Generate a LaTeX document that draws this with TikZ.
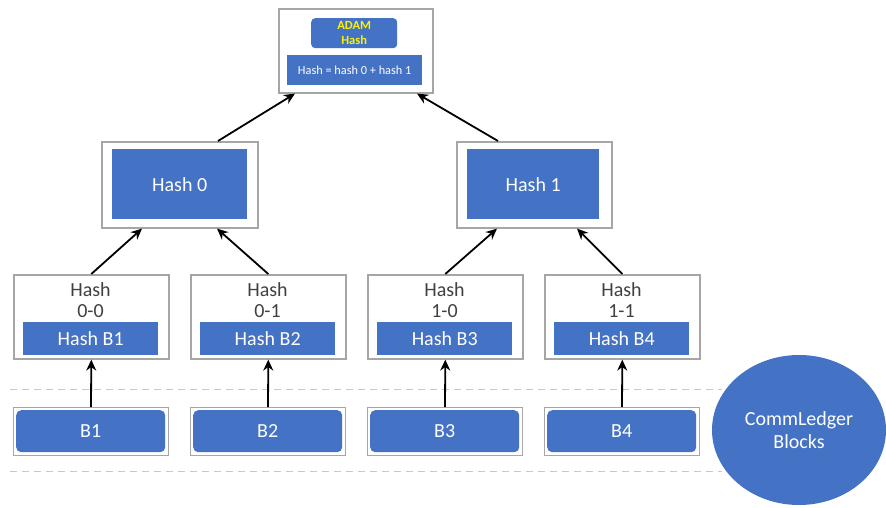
\documentclass[tikz,border=0pt]{standalone}
\usepackage{fontspec}
\setmainfont{Carlito}
\usetikzlibrary{arrows.meta,calc,shapes.geometric}
\definecolor{blk}{HTML}{4472C4}
\definecolor{framegray}{HTML}{A6A6A6}
\definecolor{guidegray}{HTML}{C8C8C8}
\definecolor{lbl}{HTML}{404040}
\tikzset{
  outer/.style={draw=framegray, line width=1.6pt, fill=white, inner sep=0pt, anchor=north west},
  bluebar/.style={fill=blk, draw=none, inner sep=0pt, anchor=north west, text=white, font=\fontsize{20}{20}\selectfont},
  link/.style={-{Stealth[length=11pt,width=10pt]}, line width=1.8pt, black},
  guide/.style={draw=guidegray, line width=1pt, dash pattern=on 7pt off 5pt}
}
\begin{document}
\begin{tikzpicture}[x=1pt,y=-1pt]
\useasboundingbox (0,0) rectangle (886,508);

% guide lines around the block row
\draw[guide] (10,389) -- (722,389);
\draw[guide] (10,471) -- (722,471);

% root
\node[outer, minimum width=154pt, minimum height=84pt] (root) at (278,8) {};
\node[bluebar, rounded corners=4pt, minimum width=86pt, minimum height=30pt, align=center,
      text=yellow, font=\bfseries\fontsize{12.5}{15}\selectfont] (adam) at (311,18) {ADAM\\Hash};
\node[bluebar, minimum width=135pt, minimum height=30pt, font=\fontsize{12.3}{12.3}\selectfont] (sum) at (287,55) {Hash = hash 0 + hash 1};

% second level
\node[outer, minimum width=156pt, minimum height=86pt] (h0) at (101,141) {};
\node[bluebar, minimum width=135pt, minimum height=70pt] (h0in) at (112,149) {Hash 0};
\node[outer, minimum width=155pt, minimum height=86pt] (h1) at (456,141) {};
\node[bluebar, minimum width=132pt, minimum height=70pt] (h1in) at (467,149) {Hash 1};

% leaf hashes
\foreach \nm/\x/\a/\b in {h00/13/0-0/B1, h01/190/0-1/B2, h10/367/1-0/B3, h11/544/1-1/B4}{
  \node[outer, minimum width=155pt, minimum height=84pt] (\nm) at (\x,274) {};
  \node[text=lbl, align=center, font=\fontsize{20}{21}\selectfont, inner sep=0pt] (\nm t) at (\x+77.5,300) {Hash\\\a};
  \node[bluebar, minimum width=135pt, minimum height=33pt] (\nm in) at (\x+10,322) {Hash \b};
  % ledger block
  \node[outer, line width=1pt, minimum width=155pt, minimum height=48pt] (\b) at (\x,407) {};
  \node[bluebar, rounded corners=5pt, minimum width=149pt, minimum height=42pt] (\b in) at (\x+3,410) {\b};
  \draw[link] (\b.north) -- (\nm.south);
}

% links up the tree
\draw[link] (h00.north) -- ($(h0.south west)+(41,0)$);
\draw[link] (h01.north) -- ($(h0.south west)+(116,0)$);
\draw[link] (h10.north) -- ($(h1.south west)+(41,0)$);
\draw[link] (h11.north) -- ($(h1.south west)+(121,0)$);
\draw[link] ($(h0.north west)+(117,0)$) -- ($(root.south west)+(17,0)$);
\draw[link] ($(h1.north west)+(42,0)$) -- ($(root.south west)+(139,0)$);

% legend
\node[ellipse, fill=blk, minimum width=174pt, minimum height=150pt, inner sep=0pt,
      text=white, align=center, font=\fontsize{20}{23}\selectfont] (legend) at (799,430) {CommLedger\\Blocks};
\end{tikzpicture}
\end{document}
